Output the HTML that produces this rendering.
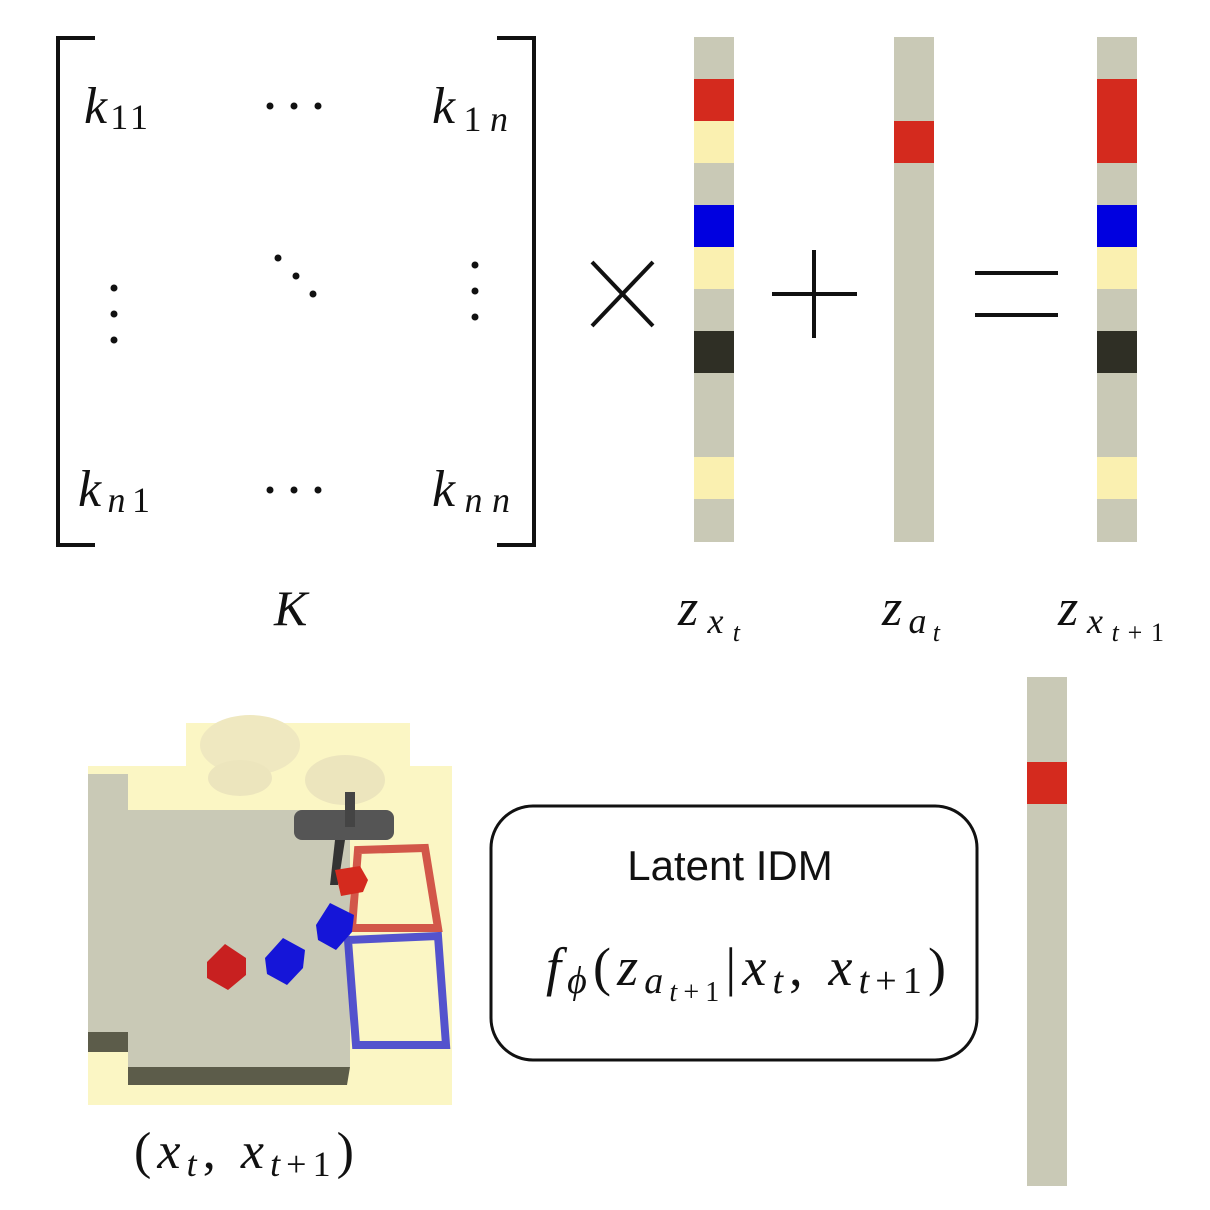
<!DOCTYPE html>
<html><head><meta charset="utf-8"><style>
html,body{margin:0;padding:0;background:#fff;}
svg{display:block}
.m{font-family:"Liberation Serif",serif;font-style:italic;fill:#111}
.s{font-style:normal}
</style></head><body>
<svg width="1210" height="1210" viewBox="0 0 1210 1210" xmlns="http://www.w3.org/2000/svg">
<polyline points="95,38 58,38 58,545 95,545" fill="none" stroke="#111" stroke-width="4"/>
<polyline points="497,38 534,38 534,545 497,545" fill="none" stroke="#111" stroke-width="4"/>
<g class="m">
<text x="84" y="123" font-size="52" textLength="64" lengthAdjust="spacing">k<tspan font-size="36" dy="6" class="s">11</tspan></text>
<text x="432" y="123" font-size="52" textLength="76" lengthAdjust="spacing">k<tspan font-size="36" dy="8" class="s">1</tspan><tspan font-size="36">n</tspan></text>
<text x="78" y="506" font-size="52" textLength="72" lengthAdjust="spacing">k<tspan font-size="36" dy="6">n</tspan><tspan font-size="36" class="s">1</tspan></text>
<text x="432" y="506" font-size="52" textLength="78" lengthAdjust="spacing">k<tspan font-size="36" dy="6">nn</tspan></text>
<text x="274" y="625" font-size="50">K</text>
<text x="678" y="625" font-size="52" textLength="62" lengthAdjust="spacing">z<tspan font-size="36" dy="8">x</tspan><tspan font-size="26" dy="8">t</tspan></text>
<text x="882" y="625" font-size="52" textLength="58" lengthAdjust="spacing">z<tspan font-size="36" dy="8">a</tspan><tspan font-size="26" dy="8">t</tspan></text>
<text x="1058" y="625" font-size="52" textLength="106" lengthAdjust="spacing">z<tspan font-size="36" dy="8">x</tspan><tspan font-size="26" dy="8">t</tspan><tspan font-size="26" class="s">+1</tspan></text>
<text x="134" y="1168" font-size="52" textLength="220" lengthAdjust="spacing"><tspan class="s">(</tspan>x<tspan font-size="36" dy="8">t</tspan><tspan dy="-8" class="s">, </tspan>x<tspan font-size="36" dy="8">t</tspan><tspan font-size="36" class="s">+1</tspan><tspan dy="-8" class="s">)</tspan></text>
<text x="546" y="985" font-size="54" textLength="400" lengthAdjust="spacing">f<tspan font-size="38" dy="8">ϕ</tspan><tspan dy="-8" class="s">(</tspan>z<tspan font-size="38" dy="8">a</tspan><tspan font-size="28" dy="8">t</tspan><tspan font-size="28" class="s">+1</tspan><tspan dy="-16" class="s">|</tspan>x<tspan font-size="38" dy="8">t</tspan><tspan dy="-8" class="s">, </tspan>x<tspan font-size="38" dy="8">t</tspan><tspan font-size="38" class="s">+1</tspan><tspan dy="-8" class="s">)</tspan></text>
</g>
<g fill="#111">
<circle cx="270" cy="106" r="3.5"/><circle cx="294" cy="106" r="3.5"/><circle cx="318" cy="106" r="3.5"/>
<circle cx="270" cy="490" r="3.5"/><circle cx="294" cy="490" r="3.5"/><circle cx="318" cy="490" r="3.5"/>
<circle cx="114" cy="288" r="3.5"/><circle cx="114" cy="314" r="3.5"/><circle cx="114" cy="340" r="3.5"/>
<circle cx="475" cy="265" r="3.5"/><circle cx="475" cy="291" r="3.5"/><circle cx="475" cy="317" r="3.5"/>
<circle cx="278" cy="258" r="3.5"/><circle cx="296" cy="276" r="3.5"/><circle cx="313" cy="294" r="3.5"/>
</g>
<g stroke="#111" stroke-width="4">
<line x1="592" y1="262" x2="653" y2="326"/><line x1="653" y1="262" x2="592" y2="326"/>
<line x1="772" y1="294" x2="857" y2="294"/><line x1="814" y1="250" x2="814" y2="338"/>
<line x1="975" y1="273" x2="1058" y2="273"/><line x1="975" y1="315" x2="1058" y2="315"/>
</g>
<g>
<rect x="694" y="37" width="40" height="505" fill="#c9c9b6"/>
<rect x="694" y="79" width="40" height="42" fill="#d42a1e"/>
<rect x="694" y="121" width="40" height="42" fill="#faf0b0"/>
<rect x="694" y="205" width="40" height="42" fill="#0000e0"/>
<rect x="694" y="247" width="40" height="42" fill="#faf0b0"/>
<rect x="694" y="331" width="40" height="42" fill="#2f2f25"/>
<rect x="694" y="457" width="40" height="42" fill="#faf0b0"/>
<rect x="894" y="37" width="40" height="505" fill="#c9c9b6"/>
<rect x="894" y="121" width="40" height="42" fill="#d42a1e"/>
<rect x="1097" y="37" width="40" height="505" fill="#c9c9b6"/>
<rect x="1097" y="79" width="40" height="84" fill="#d42a1e"/>
<rect x="1097" y="205" width="40" height="42" fill="#0000e0"/>
<rect x="1097" y="247" width="40" height="42" fill="#faf0b0"/>
<rect x="1097" y="331" width="40" height="42" fill="#2f2f25"/>
<rect x="1097" y="457" width="40" height="42" fill="#faf0b0"/>
<rect x="1027" y="677" width="40" height="509" fill="#c9c9b6"/>
<rect x="1027" y="762" width="40" height="42" fill="#d42a1e"/>
</g>
<rect x="491" y="806" width="486" height="254" rx="42" fill="none" stroke="#111" stroke-width="3"/>
<text x="730" y="880" font-family="Liberation Sans, sans-serif" font-size="42" text-anchor="middle" fill="#111">Latent IDM</text>
<g>
<rect x="186" y="723" width="224" height="50" fill="#fbf6c4"/>
<rect x="88" y="766" width="364" height="339" fill="#fbf6c4"/>
<ellipse cx="250" cy="745" rx="50" ry="30" fill="#efe8c0"/>
<ellipse cx="240" cy="778" rx="32" ry="18" fill="#ece5bd"/>
<ellipse cx="345" cy="780" rx="40" ry="25" fill="#ece5bd"/>
<rect x="88" y="774" width="40" height="258" fill="#c9c9b6"/>
<rect x="88" y="1032" width="40" height="20" fill="#5c5c4a"/>
<rect x="128" y="810" width="222" height="257" fill="#c9c9b6"/>
<polygon points="128,1067 350,1067 347,1085 128,1085" fill="#5c5c4a"/>
<rect x="294" y="810" width="100" height="30" rx="8" fill="#555"/>
<rect x="345" y="792" width="10" height="35" fill="#444"/>
<polygon points="335,840 345,840 338,885 330,885" fill="#333"/>
<g fill="none" stroke="#c8302a" stroke-width="8" opacity="0.8">
<polygon points="358,850 425,848 438,928 352,928"/>
</g>
<g fill="none" stroke="#2a2ad0" stroke-width="8" opacity="0.8">
<polygon points="348,940 438,936 446,1045 356,1045"/>
</g>
<polygon points="207,962 225,944 246,958 246,975 228,990 207,978" fill="#c82020"/>
<polygon points="265,958 283,938 305,950 303,968 287,985 267,974" fill="#1515d8"/>
<polygon points="316,925 330,903 354,915 352,932 336,950 318,940" fill="#1515d8"/>
<polygon points="335,870 360,866 368,880 363,892 341,896" fill="#d42a1e"/>
</g>
</svg>
</body></html>
